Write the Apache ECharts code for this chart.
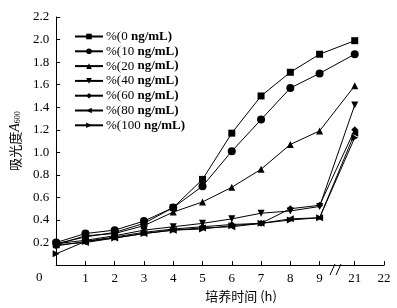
<!DOCTYPE html>
<html><head><meta charset="utf-8">
<script src="https://cdn.jsdelivr.net/npm/echarts@6/dist/echarts.min.js"></script>
<style>html,body{margin:0;padding:0;background:#fff}#c{width:397px;height:308px}</style>
</head><body><div id="c"></div>
<script>
const hours = [0,1,2,3,4,5,6,7,8,9,21];
const xTickLabels = [1,2,3,4,5,6,7,8,9,21,22];
const yTicks = [0.2,0.4,0.6,0.8,1.0,1.2,1.4,1.6,1.8,2.0,2.2];
const seriesNames = ['0','10','20','40','60','80','100'];
const s0 = [0.19,0.25,0.29,0.37,0.51,0.76,1.17,1.50,1.71,1.87,1.99];
const s10 = [0.20,0.28,0.31,0.39,0.51,0.70,1.01,1.29,1.57,1.70,1.87];
const s20 = [0.18,0.26,0.28,0.35,0.47,0.56,0.69,0.85,1.07,1.19,1.59];
const s40 = [0.19,0.22,0.26,0.31,0.34,0.37,0.41,0.46,0.48,0.52,1.42];
const s60 = [0.17,0.21,0.25,0.29,0.32,0.34,0.36,0.37,0.50,0.53,1.20];
const s80 = [0.18,0.20,0.24,0.28,0.31,0.33,0.34,0.37,0.41,0.42,1.17];
const s100 = [0.10,0.21,0.24,0.28,0.31,0.32,0.35,0.37,0.40,0.42,1.13];
const allSeries = [s0,s10,s20,s40,s60,s80,s100];
const symbols = ['rect','circle','triangle','triangle','diamond','triangle','triangle'];
const rotates = [0,0,0,180,0,90,-90];
const sizes = [7,8,7,7,7,7,7];

// broken axis: hours 0-9 linear, 21 and 22 placed after the break
function pos(h){ return h <= 9 ? h : h - 10.8; }
function label(p){ return p <= 9.5 ? String(Math.round(p)) : String(Math.round(p + 10.8)); }

const serif = '"Liberation Serif","Times New Roman",serif';
const chart = echarts.init(document.getElementById('c'));
chart.setOption({
  animation:false,
  grid:{left:52,right:13,top:17,bottom:38},
  legend:{
    orient:'vertical', left:69, top:25, itemWidth:28, itemHeight:7, itemGap:1.8,
    data: seriesNames.map(n=>n+' ng/mL'),
    formatter: n => '%(' + n.replace(' ng/mL','') + ' {b|ng/mL)}',
    textStyle:{fontFamily:serif,fontSize:13,color:'#000',padding:[0,0,0,-2],rich:{b:{fontFamily:serif,fontSize:13,fontWeight:'bold',color:'#000'}}}
  },
  xAxis:{
    type:'value', min:0, max:pos(22),
    name:'培养时间 (h)', nameLocation:'middle', nameGap:22,
    nameTextStyle:{fontFamily:'"Noto Sans CJK SC",'+serif,fontSize:13,color:'#000',padding:[0,0,0,42]},
    splitLine:{show:false},
    axisLine:{lineStyle:{color:'#000',width:1}},
    axisTick:{inside:true,length:4,lineStyle:{color:'#000'},customValues:xTickLabels.map(pos)},
    axisLabel:{customValues:xTickLabels.map(pos),formatter:v=>label(v),fontFamily:serif,fontSize:13,color:'#000',margin:7}
  },
  yAxis:{
    type:'value', min:0, max:2.2, interval:0.2,
    name:'{a|吸光度}{i|A}{s|600}', nameLocation:'middle', nameGap:33,
    nameTextStyle:{rich:{a:{fontFamily:'"Noto Sans CJK SC",serif',fontSize:13,color:'#000'},i:{fontFamily:serif,fontStyle:'italic',fontSize:14,color:'#000'},s:{fontFamily:serif,fontSize:8,color:'#000',verticalAlign:'bottom',padding:[6,0,0,0]}}},
    splitLine:{show:false},
    axisLine:{show:true,lineStyle:{color:'#000',width:1}},
    axisTick:{inside:true,length:4,lineStyle:{color:'#000'}},
    axisLabel:{formatter:v=> v===0 ? '' : v.toFixed(1),fontFamily:serif,fontSize:13,color:'#000',margin:7}
  },
  graphic:[
    {type:'text',left:36,top:271,style:{text:'0',font:'13px '+serif,fill:'#000'}},
    {type:'rect',shape:{x:330,y:266,width:11,height:8},style:{fill:'#fff'}},
    {type:'line',shape:{x1:330,y1:275,x2:335,y2:264},style:{stroke:'#000',lineWidth:1}},
    {type:'line',shape:{x1:336,y1:275,x2:341,y2:264},style:{stroke:'#000',lineWidth:1}}
  ],
  series: allSeries.map((d,i)=>({
    name: seriesNames[i]+' ng/mL', type:'line',
    data: d.map((v,j)=>[pos(hours[j]),v]),
    symbol: symbols[i], symbolRotate: rotates[i], symbolSize: sizes[i],
    lineStyle:{color:'#000',width:1}, itemStyle:{color:'#000'},
    z: 10-i
  }))
});
</script></body></html>
